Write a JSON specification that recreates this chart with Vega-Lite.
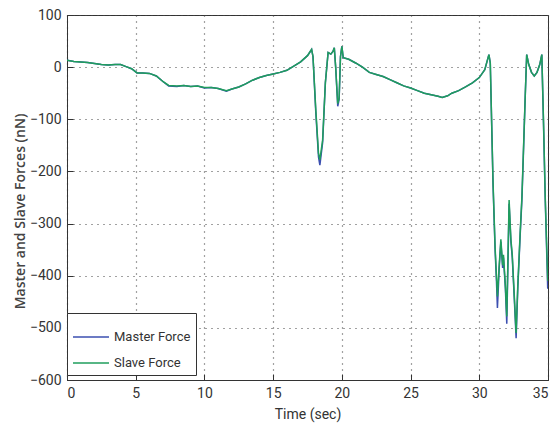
{
  "$schema": "https://vega.github.io/schema/vega-lite/v6.json",
  "autosize": "none",
  "width": 481,
  "height": 365,
  "padding": {"left": 67, "top": 15, "right": 11, "bottom": 52},
  "background": "white",
  "config": {
    "view": {"stroke": "#333", "strokeWidth": 1},
    "font": "Roboto",
    "axis": {
      "labelFont": "Roboto",
      "labelFontSize": 14,
      "labelColor": "#333",
      "titleFont": "Open Sans",
      "titleColor": "#444",
      "grid": true,
      "gridColor": "#444",
      "gridDash": [1, 5],
      "gridWidth": 1.2,
      "gridOpacity": 1,
      "domainColor": "#333",
      "tickColor": "#333",
      "tickSize": -6,
      "labelPadding": 12
    }
  },
  "data": {"values": [
    {"t":0,"f":13,"s":"Master Force"},{"t":0.5,"f":11,"s":"Master Force"},{"t":1,"f":10,"s":"Master Force"},{"t":1.5,"f":9,"s":"Master Force"},{"t":2,"f":7,"s":"Master Force"},{"t":2.5,"f":5,"s":"Master Force"},{"t":3,"f":4,"s":"Master Force"},{"t":3.5,"f":5,"s":"Master Force"},{"t":3.9,"f":5,"s":"Master Force"},{"t":4.3,"f":1,"s":"Master Force"},{"t":4.7,"f":-3,"s":"Master Force"},{"t":5.1,"f":-11,"s":"Master Force"},{"t":5.5,"f":-11,"s":"Master Force"},{"t":6,"f":-12,"s":"Master Force"},{"t":6.5,"f":-17,"s":"Master Force"},{"t":7,"f":-28,"s":"Master Force"},{"t":7.4,"f":-36,"s":"Master Force"},{"t":8,"f":-37,"s":"Master Force"},{"t":8.5,"f":-35,"s":"Master Force"},{"t":9,"f":-37,"s":"Master Force"},{"t":9.5,"f":-36,"s":"Master Force"},{"t":10,"f":-40,"s":"Master Force"},{"t":10.5,"f":-39,"s":"Master Force"},{"t":11,"f":-41,"s":"Master Force"},{"t":11.6,"f":-46,"s":"Master Force"},{"t":12,"f":-42,"s":"Master Force"},{"t":12.5,"f":-38,"s":"Master Force"},{"t":13,"f":-32,"s":"Master Force"},{"t":13.5,"f":-25,"s":"Master Force"},{"t":14,"f":-20,"s":"Master Force"},{"t":14.5,"f":-16,"s":"Master Force"},{"t":15,"f":-13,"s":"Master Force"},{"t":15.5,"f":-10,"s":"Master Force"},{"t":16,"f":-6,"s":"Master Force"},{"t":16.5,"f":2,"s":"Master Force"},{"t":17,"f":10,"s":"Master Force"},{"t":17.5,"f":22,"s":"Master Force"},{"t":17.7,"f":30,"s":"Master Force"},{"t":17.8,"f":34,"s":"Master Force"},{"t":17.9,"f":20,"s":"Master Force"},{"t":18.1,"f":-85,"s":"Master Force"},{"t":18.3,"f":-172,"s":"Master Force"},{"t":18.4,"f":-188,"s":"Master Force"},{"t":18.6,"f":-145,"s":"Master Force"},{"t":18.8,"f":-30,"s":"Master Force"},{"t":19,"f":28,"s":"Master Force"},{"t":19.2,"f":25,"s":"Master Force"},{"t":19.35,"f":30,"s":"Master Force"},{"t":19.45,"f":37,"s":"Master Force"},{"t":19.55,"f":0,"s":"Master Force"},{"t":19.7,"f":-75,"s":"Master Force"},{"t":19.8,"f":-62,"s":"Master Force"},{"t":19.9,"f":20,"s":"Master Force"},{"t":20,"f":40,"s":"Master Force"},{"t":20.1,"f":18,"s":"Master Force"},{"t":20.5,"f":15,"s":"Master Force"},{"t":21,"f":8,"s":"Master Force"},{"t":21.5,"f":0,"s":"Master Force"},{"t":22,"f":-10,"s":"Master Force"},{"t":22.5,"f":-14,"s":"Master Force"},{"t":23,"f":-18,"s":"Master Force"},{"t":23.5,"f":-24,"s":"Master Force"},{"t":24,"f":-30,"s":"Master Force"},{"t":24.5,"f":-36,"s":"Master Force"},{"t":25,"f":-40,"s":"Master Force"},{"t":25.5,"f":-45,"s":"Master Force"},{"t":26,"f":-50,"s":"Master Force"},{"t":26.5,"f":-53,"s":"Master Force"},{"t":27,"f":-56,"s":"Master Force"},{"t":27.3,"f":-58,"s":"Master Force"},{"t":27.7,"f":-55,"s":"Master Force"},{"t":28,"f":-50,"s":"Master Force"},{"t":28.5,"f":-45,"s":"Master Force"},{"t":29,"f":-38,"s":"Master Force"},{"t":29.5,"f":-30,"s":"Master Force"},{"t":30,"f":-20,"s":"Master Force"},{"t":30.4,"f":-5,"s":"Master Force"},{"t":30.7,"f":24,"s":"Master Force"},{"t":30.8,"f":8,"s":"Master Force"},{"t":31,"f":-225,"s":"Master Force"},{"t":31.15,"f":-350,"s":"Master Force"},{"t":31.25,"f":-410,"s":"Master Force"},{"t":31.32,"f":-462,"s":"Master Force"},{"t":31.45,"f":-385,"s":"Master Force"},{"t":31.57,"f":-335,"s":"Master Force"},{"t":31.7,"f":-385,"s":"Master Force"},{"t":31.76,"f":-365,"s":"Master Force"},{"t":31.9,"f":-425,"s":"Master Force"},{"t":32,"f":-492,"s":"Master Force"},{"t":32.17,"f":-262,"s":"Master Force"},{"t":32.3,"f":-335,"s":"Master Force"},{"t":32.4,"f":-365,"s":"Master Force"},{"t":32.55,"f":-445,"s":"Master Force"},{"t":32.68,"f":-520,"s":"Master Force"},{"t":32.8,"f":-425,"s":"Master Force"},{"t":32.97,"f":-325,"s":"Master Force"},{"t":33.1,"f":-255,"s":"Master Force"},{"t":33.2,"f":-175,"s":"Master Force"},{"t":33.35,"f":-50,"s":"Master Force"},{"t":33.45,"f":24,"s":"Master Force"},{"t":33.6,"f":5,"s":"Master Force"},{"t":33.8,"f":-10,"s":"Master Force"},{"t":34,"f":-17,"s":"Master Force"},{"t":34.2,"f":-10,"s":"Master Force"},{"t":34.4,"f":5,"s":"Master Force"},{"t":34.55,"f":24,"s":"Master Force"},{"t":34.67,"f":-105,"s":"Master Force"},{"t":34.8,"f":-255,"s":"Master Force"},{"t":34.98,"f":-425,"s":"Master Force"},
    {"t":0,"f":13,"s":"Slave Force"},{"t":0.5,"f":11,"s":"Slave Force"},{"t":1,"f":10,"s":"Slave Force"},{"t":1.5,"f":9,"s":"Slave Force"},{"t":2,"f":7,"s":"Slave Force"},{"t":2.5,"f":5,"s":"Slave Force"},{"t":3,"f":4,"s":"Slave Force"},{"t":3.5,"f":5,"s":"Slave Force"},{"t":3.9,"f":5,"s":"Slave Force"},{"t":4.3,"f":1,"s":"Slave Force"},{"t":4.7,"f":-3,"s":"Slave Force"},{"t":5.1,"f":-11,"s":"Slave Force"},{"t":5.5,"f":-11,"s":"Slave Force"},{"t":6,"f":-12,"s":"Slave Force"},{"t":6.5,"f":-17,"s":"Slave Force"},{"t":7,"f":-28,"s":"Slave Force"},{"t":7.4,"f":-35,"s":"Slave Force"},{"t":8,"f":-36,"s":"Slave Force"},{"t":8.5,"f":-35,"s":"Slave Force"},{"t":9,"f":-37,"s":"Slave Force"},{"t":9.5,"f":-36,"s":"Slave Force"},{"t":10,"f":-39,"s":"Slave Force"},{"t":10.5,"f":-39,"s":"Slave Force"},{"t":11,"f":-41,"s":"Slave Force"},{"t":11.6,"f":-45,"s":"Slave Force"},{"t":12,"f":-42,"s":"Slave Force"},{"t":12.5,"f":-38,"s":"Slave Force"},{"t":13,"f":-32,"s":"Slave Force"},{"t":13.5,"f":-25,"s":"Slave Force"},{"t":14,"f":-20,"s":"Slave Force"},{"t":14.5,"f":-16,"s":"Slave Force"},{"t":15,"f":-13,"s":"Slave Force"},{"t":15.5,"f":-10,"s":"Slave Force"},{"t":16,"f":-6,"s":"Slave Force"},{"t":16.5,"f":2,"s":"Slave Force"},{"t":17,"f":10,"s":"Slave Force"},{"t":17.5,"f":22,"s":"Slave Force"},{"t":17.7,"f":30,"s":"Slave Force"},{"t":17.8,"f":34,"s":"Slave Force"},{"t":17.9,"f":20,"s":"Slave Force"},{"t":18.1,"f":-80,"s":"Slave Force"},{"t":18.3,"f":-165,"s":"Slave Force"},{"t":18.4,"f":-178,"s":"Slave Force"},{"t":18.6,"f":-140,"s":"Slave Force"},{"t":18.8,"f":-30,"s":"Slave Force"},{"t":19,"f":28,"s":"Slave Force"},{"t":19.2,"f":25,"s":"Slave Force"},{"t":19.35,"f":30,"s":"Slave Force"},{"t":19.45,"f":37,"s":"Slave Force"},{"t":19.55,"f":0,"s":"Slave Force"},{"t":19.7,"f":-70,"s":"Slave Force"},{"t":19.8,"f":-60,"s":"Slave Force"},{"t":19.9,"f":20,"s":"Slave Force"},{"t":20,"f":40,"s":"Slave Force"},{"t":20.1,"f":18,"s":"Slave Force"},{"t":20.5,"f":15,"s":"Slave Force"},{"t":21,"f":8,"s":"Slave Force"},{"t":21.5,"f":0,"s":"Slave Force"},{"t":22,"f":-10,"s":"Slave Force"},{"t":22.5,"f":-14,"s":"Slave Force"},{"t":23,"f":-18,"s":"Slave Force"},{"t":23.5,"f":-24,"s":"Slave Force"},{"t":24,"f":-30,"s":"Slave Force"},{"t":24.5,"f":-36,"s":"Slave Force"},{"t":25,"f":-40,"s":"Slave Force"},{"t":25.5,"f":-45,"s":"Slave Force"},{"t":26,"f":-50,"s":"Slave Force"},{"t":26.5,"f":-53,"s":"Slave Force"},{"t":27,"f":-56,"s":"Slave Force"},{"t":27.3,"f":-58,"s":"Slave Force"},{"t":27.7,"f":-55,"s":"Slave Force"},{"t":28,"f":-50,"s":"Slave Force"},{"t":28.5,"f":-45,"s":"Slave Force"},{"t":29,"f":-38,"s":"Slave Force"},{"t":29.5,"f":-30,"s":"Slave Force"},{"t":30,"f":-20,"s":"Slave Force"},{"t":30.4,"f":-5,"s":"Slave Force"},{"t":30.7,"f":24,"s":"Slave Force"},{"t":30.8,"f":8,"s":"Slave Force"},{"t":31,"f":-220,"s":"Slave Force"},{"t":31.15,"f":-345,"s":"Slave Force"},{"t":31.25,"f":-400,"s":"Slave Force"},{"t":31.32,"f":-440,"s":"Slave Force"},{"t":31.45,"f":-380,"s":"Slave Force"},{"t":31.57,"f":-330,"s":"Slave Force"},{"t":31.7,"f":-380,"s":"Slave Force"},{"t":31.76,"f":-360,"s":"Slave Force"},{"t":31.9,"f":-420,"s":"Slave Force"},{"t":32,"f":-478,"s":"Slave Force"},{"t":32.17,"f":-255,"s":"Slave Force"},{"t":32.3,"f":-330,"s":"Slave Force"},{"t":32.4,"f":-360,"s":"Slave Force"},{"t":32.55,"f":-440,"s":"Slave Force"},{"t":32.68,"f":-510,"s":"Slave Force"},{"t":32.8,"f":-420,"s":"Slave Force"},{"t":32.97,"f":-320,"s":"Slave Force"},{"t":33.1,"f":-250,"s":"Slave Force"},{"t":33.2,"f":-170,"s":"Slave Force"},{"t":33.35,"f":-50,"s":"Slave Force"},{"t":33.45,"f":24,"s":"Slave Force"},{"t":33.6,"f":5,"s":"Slave Force"},{"t":33.8,"f":-10,"s":"Slave Force"},{"t":34,"f":-17,"s":"Slave Force"},{"t":34.2,"f":-10,"s":"Slave Force"},{"t":34.4,"f":5,"s":"Slave Force"},{"t":34.55,"f":24,"s":"Slave Force"},{"t":34.67,"f":-100,"s":"Slave Force"},{"t":34.8,"f":-250,"s":"Slave Force"},{"t":34.98,"f":-410,"s":"Slave Force"}
  ]},
  "mark": {"type": "line", "strokeWidth": 1.5, "clip": true},
  "encoding": {
    "x": {
      "field": "t", "type": "quantitative",
      "scale": {"domain": [0, 35], "nice": false},
      "axis": {"values": [0,5,10,15,20,25,30,35], "title": "Time (sec)", "titleFont": "Roboto", "titleFontSize": 14, "titleFontWeight": "normal", "titleColor": "#333", "titlePadding": 7, "labelPadding": 12}
    },
    "y": {
      "field": "f", "type": "quantitative",
      "scale": {"domain": [-600, 100], "nice": false},
      "axis": {"values": [-600,-500,-400,-300,-200,-100,0,100], "title": "Master and Slave Forces (nN)", "titleFontSize": 14, "titleFontWeight": 600, "titleY": 196, "titleX": -40, "labelPadding": 12}
    },
    "color": {
      "field": "s", "type": "nominal",
      "scale": {"domain": ["Master Force", "Slave Force"], "range": ["#3b4fb0", "#1f9e5c"]},
      "legend": {
        "title": null,
        "orient": "none",
        "legendX": 0,
        "legendY": 298,
        "symbolType": "stroke",
        "symbolSize": 1300,
        "symbolStrokeWidth": 1.5,
        "labelFont": "Roboto",
        "labelFontSize": 13,
        "labelColor": "#333",
        "rowPadding": 0,
        "padding": 5,
        "strokeColor": "#333",
        "fillColor": "white",
        "labelOffset": 4
      }
    }
  }
}
